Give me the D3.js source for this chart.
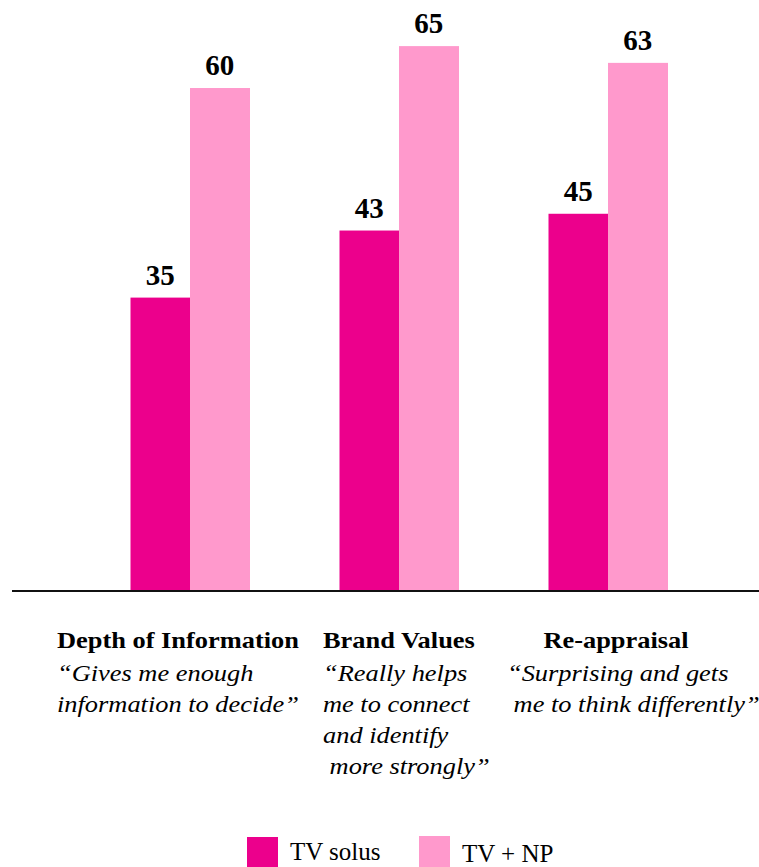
<!DOCTYPE html>
<html>
<head>
  <meta charset="utf-8">
  <title>TV solus vs TV + NP</title>
  <script src="https://d3js.org/d3.v7.min.js"></script>
  <style>
    body { margin: 0; background: #fff; }
    text { font-family: "Liberation Serif", "Times New Roman", serif; }
  </style>
</head>
<body>
<script>
const width = 759;
const height = 867;

// data
const categories = ['Depth of Information', 'Brand Values', 'Re-appraisal'];
const series = ['TV solus', 'TV + NP'];
const tvSolus = [35, 43, 45];
const tvNp = [60, 65, 63];
const quotes = [
  ['\u201cGives me enough', 'information to decide\u201d'],
  ['\u201cReally helps', 'me to connect', 'and identify', ' more strongly\u201d'],
  ['\u201cSurprising and gets', ' me to think differently\u201d']
];
const colors = ['#ec008c', '#ff99cc'];

const svg = d3.select('body')
  .append('svg')
  .attr('width', width)
  .attr('height', height);

const baseline = 591;

const x0 = d3.scaleBand()
  .domain(categories)
  .range([85.5, 712.5])
  .padding(0);

const x1 = d3.scaleBand()
  .domain(series)
  .range([0, 119]);

const y = d3.scaleLinear()
  .domain([0, 70.5])
  .range([baseline, 0]);

const rows = categories.map((c, i) => ({ cat: c, vals: [tvSolus[i], tvNp[i]] }));

const groups = svg.selectAll('g.grp')
  .data(rows)
  .enter()
  .append('g')
  .attr('class', 'grp')
  .attr('transform', d => `translate(${x0(d.cat) + x0.bandwidth() / 2 - 59.5}, 0)`);

groups.selectAll('rect')
  .data(d => d.vals.map((v, j) => ({ s: series[j], v: v, j: j })))
  .enter()
  .append('rect')
  .attr('x', d => x1(d.s))
  .attr('y', d => y(d.v))
  .attr('width', x1.bandwidth() + 0.5)
  .attr('height', d => baseline - y(d.v))
  .attr('fill', d => colors[d.j]);

groups.selectAll('text.val')
  .data(d => d.vals.map((v, j) => ({ s: series[j], v: v })))
  .enter()
  .append('text')
  .attr('class', 'val')
  .attr('x', d => x1(d.s) + x1.bandwidth() / 2)
  .attr('y', d => y(d.v) - 13)
  .attr('text-anchor', 'middle')
  .attr('font-weight', 'bold')
  .attr('font-size', 29)
  .text(d => d.v);

// baseline
svg.append('line')
  .attr('x1', 12).attr('x2', 759)
  .attr('y1', baseline).attr('y2', baseline)
  .attr('stroke', '#111')
  .attr('stroke-width', 1.8);

// category labels (the original text is a little wide, hence the x stretch)
const stretch = 1.1;
const titleOffsets = [-133, -76, 8];
const titleAnchor = ['start', 'start', 'middle'];
const quoteOffsets = [-133, -76, -101];
categories.forEach((c, i) => {
  const cx = x0(c) + x0.bandwidth() / 2;
  svg.append('g')
    .attr('transform', `translate(${cx + titleOffsets[i]}, 0) scale(${stretch}, 1)`)
    .append('text')
    .attr('x', 0)
    .attr('y', 648)
    .attr('text-anchor', titleAnchor[i])
    .attr('font-weight', 'bold')
    .attr('font-size', 24)
    .text(c);
  const t = svg.append('g')
    .attr('transform', `translate(${cx + quoteOffsets[i]}, 0) scale(${stretch}, 1)`)
    .append('text')
    .attr('font-style', 'italic')
    .attr('font-size', 24)
    .style('white-space', 'pre');
  quotes[i].forEach((line, k) => {
    t.append('tspan')
      .attr('x', 0)
      .attr('y', 681 + k * 31)
      .text(line);
  });
});

// legend
const legendX = [247, 419];
const legendY = [837, 836];
series.forEach((s, j) => {
  svg.append('rect')
    .attr('x', legendX[j]).attr('y', legendY[j])
    .attr('width', 31).attr('height', 31)
    .attr('fill', colors[j]);
  svg.append('text')
    .attr('x', legendX[j] + 43)
    .attr('y', 860 + j * 1.5)
    .attr('font-size', 25)
    .text(s);
});
</script>
</body>
</html>
